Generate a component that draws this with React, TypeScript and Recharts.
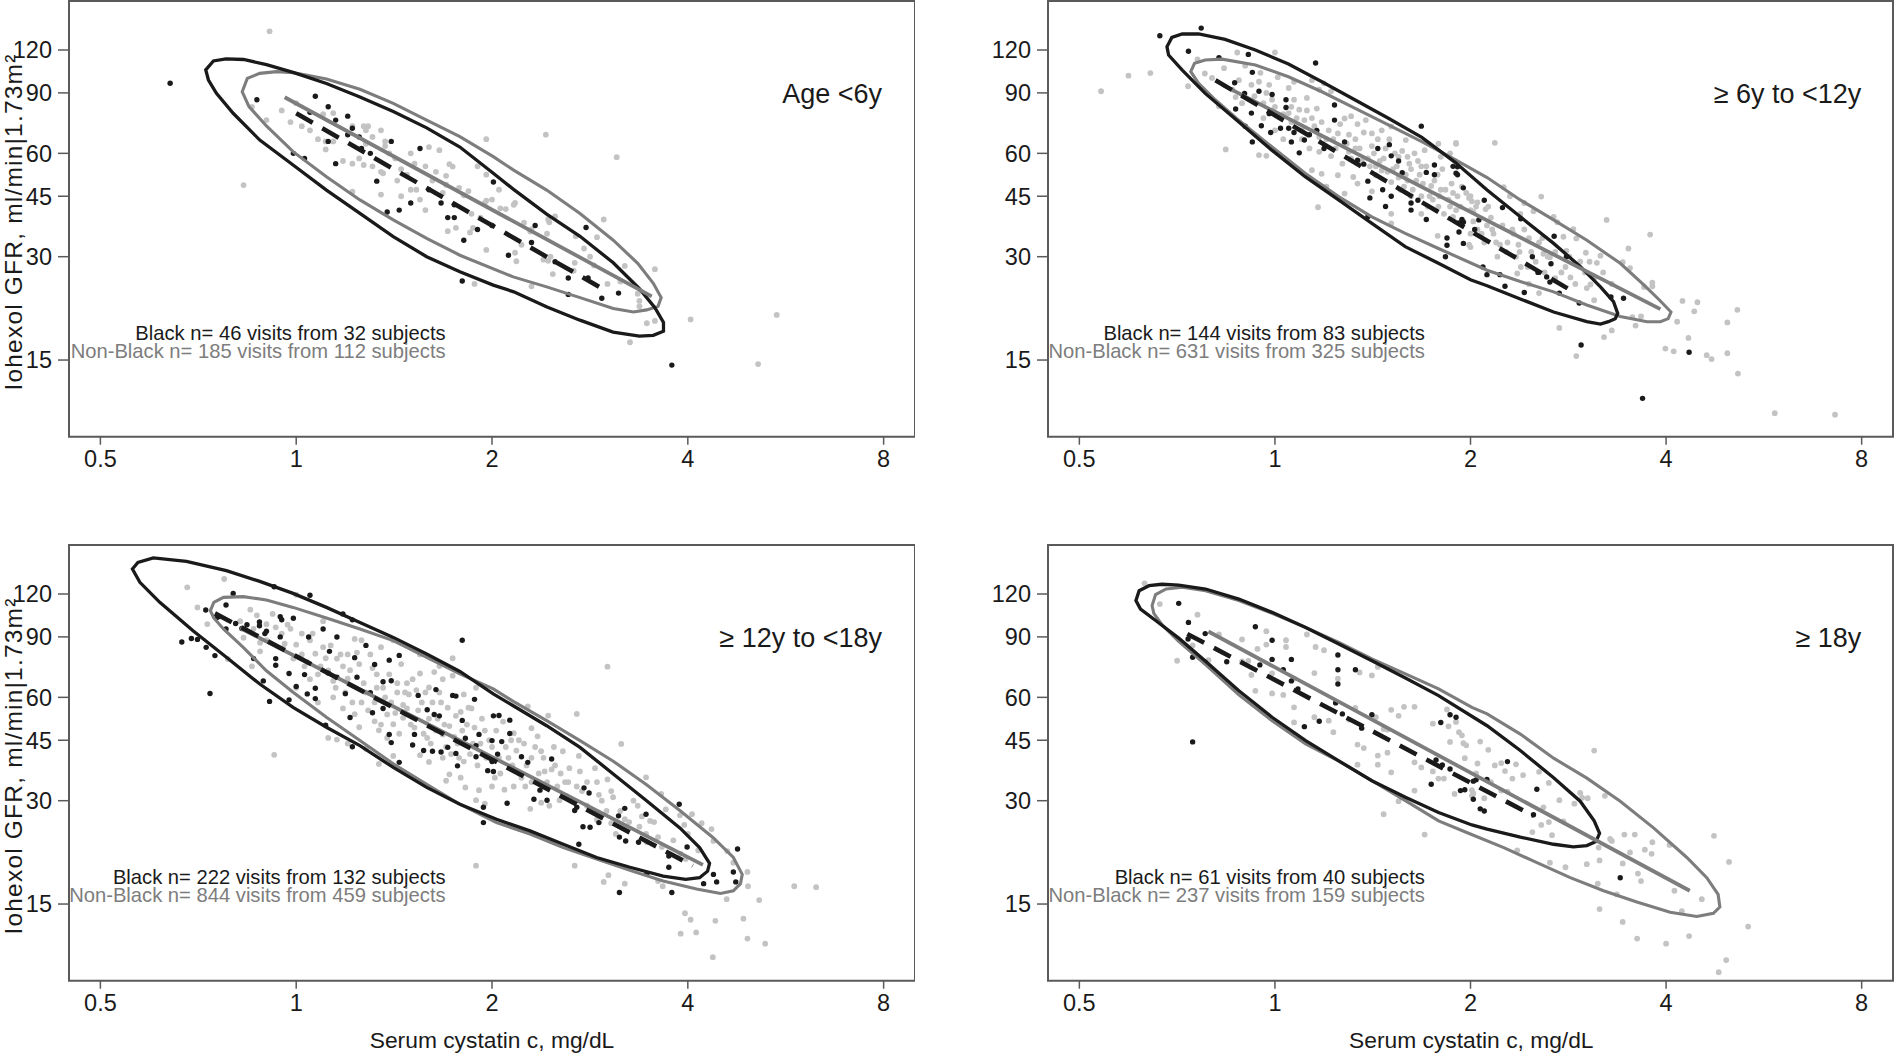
import React from 'react';
import { ScatterChart, Scatter, XAxis, YAxis, ReferenceArea } from 'recharts';

type Pair = [number, number];

const X_TICKS = [0.5, 1, 2, 4, 8];
const Y_TICKS = [15, 30, 45, 60, 90, 120];
const X_DOMAIN: [number, number] = [0.4474, 8.94];
const Y_DOMAIN: [number, number] = [8.97, 166.7];

const PANEL_TITLES = ['Age <6y', '\u2265 6y to <12y', '\u2265 12y to <18y', '\u2265 18y'];
const BLACK_LABELS = [
  'Black n= 46 visits from 32 subjects',
  'Black n= 144 visits from 83 subjects',
  'Black n= 222 visits from 132 subjects',
  'Black n= 61 visits from 40 subjects',
];
const NONBLACK_LABELS = [
  'Non-Black n= 185 visits from 112 subjects',
  'Non-Black n= 631 visits from 325 subjects',
  'Non-Black n= 844 visits from 459 subjects',
  'Non-Black n= 237 visits from 159 subjects',
];
const Y_TITLE = 'Iohexol GFR, ml/min|1.73m\u00B2';
const X_TITLE = 'Serum cystatin c, mg/dL';

// ---------- Age < 6y ----------
const TL_BLACK: Pair[] = [
  [0.64,96],[0.87,86],[1.07,88],[1.12,82],[1.05,79],[1.20,77],[1.22,71],[1.25,67],[1.12,65],[0.99,60],
  [1.03,58],[1.15,56],[1.40,65],[1.55,62],[1.33,49.8],[1.38,40.5],[1.44,41],[1.50,43],[1.67,43],[1.75,42.5],
  [1.71,39],[1.75,39],[1.81,33.5],[1.80,25.5],[2.01,49.5],[2.0,37],[1.26,62],[2.33,37],[2.12,30.3],[2.62,26],
  [2.79,36.5],[2.81,26],[2.62,23.3],[2.95,22.7],[3.13,23.5],[3.78,14.5],[1.30,60],[1.60,47],[1.90,36],[2.3,33],
  [1.20,68],[1.15,75],[2.5,29],
];
const TL_GRAY: Pair[] = [
  [0.91,136],[0.83,48.5],[0.855,82],[0.90,75],[1.05,70],[1.10,78],[1.14,78.6],[1.11,61.6],[1.14,65],[1.18,57],
  [1.22,72],[1.27,72],[1.29,72],[1.28,70],[1.35,70],[1.31,67],[1.37,65],[1.37,63],[1.28,64],[1.39,60],
  [1.42,58],[1.27,55.5],[1.22,56],[1.35,53],[1.36,52.5],[1.43,50],[1.48,52],[1.52,56],[1.58,55],[1.64,53],
  [1.60,62.6],[1.66,61.3],[1.72,55.8],[1.74,54.9],[1.70,51.6],[1.70,48.6],[1.78,47.6],[1.84,46.6],[1.81,45.3],[1.50,47],
  [1.53,47],[1.45,45],[1.58,41],[1.96,66],[1.96,43.7],[1.71,35.6],[1.76,36.4],[1.87,36.4],[1.85,35.3],[1.96,31.4],
  [1.88,25],[1.22,46.4],[1.35,45.5],[1.11,65],[1.31,55],[1.50,60],[1.90,55],[1.86,40],[2.42,68],[3.11,58.5],
  [1.96,52],[2.0,44],[1.95,43],[2.06,41.5],[2.10,41.3],[2.17,43],[2.16,42.5],[2.24,37.7],[2.30,36],[2.29,35.5],
  [2.44,38.5],[2.45,37.8],[2.43,35],[2.50,39.3],[2.69,34.4],[2.77,31.7],[2.83,30],[2.87,28.3],[2.90,34.2],[2.97,38.5],
  [2.17,30.8],[2.22,32.5],[2.40,29.4],[2.46,30],[2.44,29.2],[2.68,28.8],[2.48,26.7],[2.67,27.3],[2.18,29.1],[2.30,24.6],
  [3.20,28.2],[3.01,25],[3.56,27.6],[3.37,22.3],[3.37,21.5],[3.46,19.2],[3.56,19.5],[3.26,16.9],[4.04,19.7],[5.48,20.3],
  [5.13,14.6],[3.15,25.4],[3.35,23.4],[1.02,72],[1.08,66],[1.25,58],[1.45,54],[1.62,50],[1.55,44],[1.68,46],
  [1.92,39],[2.05,47],[1.00,84],[0.95,80],[0.98,74],
];
const TL_BLACK_ELLIPSE: Pair[] = [
  [0.726,105],[0.746,111.5],[0.78,113],[0.83,112.6],[0.90,108.8],[0.989,103.3],[1.113,95.9],[1.253,87.6],[1.41,79.5],[1.587,71.2],
  [1.785,62.6],[2.009,52.5],[2.156,47.2],[2.427,39.9],[2.731,34.4],[3.072,28.8],[3.37,24.2],[3.56,21.3],[3.67,19.3],[3.67,18.2],
  [3.54,17.7],[3.37,17.6],[3.07,18.1],[2.73,19.6],[2.43,21.4],[2.16,23.7],[2.009,24.8],[1.785,27.1],[1.587,30.0],[1.41,34.3],
  [1.253,40.1],[1.113,46.9],[0.989,55.5],[0.879,65.6],[0.80,78.5],[0.754,89.7],[0.733,98.1],
];
const TL_GRAY_ELLIPSE: Pair[] = [
  [0.826,90.7],[0.841,99.2],[0.879,102.6],[0.933,103.8],[0.989,103.1],[1.113,98.8],[1.253,92.2],[1.41,83.9],[1.587,75.0],[1.785,67.1],
  [2.009,58.7],[2.156,53.7],[2.427,46.9],[2.731,40.1],[3.072,33.5],[3.35,28.7],[3.54,25.1],[3.64,22.8],[3.60,21.5],[3.457,21.0],
  [3.30,20.7],[3.072,21.2],[2.731,22.8],[2.427,24.5],[2.156,26.2],[1.785,30.3],[1.587,33.9],[1.41,38.4],[1.253,43.9],[1.113,51.3],
  [0.989,60.7],[0.90,72.1],[0.846,82.1],
];
const TL_BLACK_FIT: Pair[] = [[1.0,78.5],[2.98,24.0]];
const TL_GRAY_FIT: Pair[] = [[0.96,87.4],[3.52,23.0]];

// ---------- >= 6y to < 12y ----------
const TR_BLACK: Pair[] = [
  [0.665,132],[0.77,139],[0.736,119],[0.91,116.5],[1.155,110],[0.82,114],[0.923,103.3],[0.867,96.3],[0.898,89.6],[0.945,91],
  [0.99,89],[1.04,86],[1.04,81.6],[0.87,80.8],[0.92,78.6],[0.98,78.3],[0.90,72],[0.953,72.2],[1.02,71],[1.05,71],
  [0.985,69],[1.07,69],[1.06,64.8],[0.923,64.8],[1.09,60.2],[1.13,68],[1.16,70],[1.235,83],[1.235,75],[1.19,62],
  [1.11,65.6],[1.28,64.8],[1.34,57.3],[1.37,55.8],[1.39,49.8],[1.44,62],[1.50,63.6],[1.51,59],[1.55,57],[1.465,47],
  [1.51,45],[1.40,44.5],[1.57,52.7],[1.68,72],[1.71,52.8],[1.76,52],[1.76,55.5],[1.88,55],[1.90,52.5],[1.66,43.8],
  [1.62,41],[1.71,38.5],[1.84,34],[1.84,32.4],[1.83,30],[1.95,32.8],[1.92,37.6],[1.95,37.8],[1.48,42],[1.39,39.2],
  [1.62,43],[1.91,54.8],[1.91,52],[1.95,47.6],[2.10,43.8],[1.94,38.5],[1.92,35.4],[2.06,38.4],[2.24,41.7],[2.39,38.7],
  [2.03,36],[2.09,28],[2.12,26.6],[2.22,26.6],[2.26,24.6],[2.42,23.6],[2.49,30],[2.54,27],[2.62,26.2],[2.65,25.3],
  [2.69,34.4],[2.74,23.5],[2.66,28.6],[2.94,22],[3.29,22.9],[3.44,22.7],[2.96,16.6],[4.34,15.8],[3.68,11.6],[2.81,30],
];
const TR_GRAY: Pair[] = [
  [0.54,91],[0.595,101],[0.643,102.8],[0.735,94.1],[0.76,112.6],[0.78,102.5],[0.80,99.5],[0.835,106.2],[0.875,118],[1.0,118],
  [0.84,61.6],[0.82,82.3],[0.87,87.5],[0.89,84],[0.945,97],[0.98,95],[0.99,86],[1.01,100],[0.96,84],[0.945,59.3],
  [0.97,59],[1.05,78.6],[1.09,80.4],[1.11,75],[1.07,86],[1.16,81],[1.19,96],[1.22,91],[1.28,75.8],[1.31,77],
  [1.34,73],[1.38,75],[1.41,68.6],[1.46,70],[1.51,71.9],[1.59,65.6],[1.25,68.6],[1.30,60.6],[1.22,58.9],[1.17,60.6],
  [1.14,53.6],[1.18,52.3],[1.25,51.8],[1.32,51.2],[1.20,48],[1.28,45.8],[1.34,49],[1.43,51.8],[1.46,53.5],[1.51,49.5],
  [1.41,46.5],[1.56,47],[1.60,50],[1.62,45],[1.55,58.6],[1.60,58.6],[1.64,60],[1.70,61.3],[1.785,64],[1.80,58.6],
  [1.86,60],[1.68,55],[1.74,48.2],[1.80,47],[1.87,49],[1.94,48],[1.99,44.5],[2.01,43.5],[1.785,42],[1.88,39.2],
  [2.0,41],[1.90,64],[2.0,35],[2.0,32],[1.68,40],[1.78,34.5],[1.51,40],[1.51,37.5],[1.165,41.8],[1.90,64.4],
  [2.18,64.4],[3.24,38.4],[3.78,34.8],[3.50,31.7],[3.43,28.9],[3.52,27.8],[3.70,24.5],[3.81,24.6],[3.17,30.2],[3.13,28.8],
  [3.01,30.8],[3.02,24.3],[3.06,24.9],[3.10,22.4],[2.85,26.1],[2.81,31.2],[2.91,33.9],[2.88,36.1],[2.78,34.3],[2.685,39.2],
  [2.72,37.8],[2.57,44.9],[2.50,40.7],[2.386,40],[2.42,43],[2.33,35],[2.46,34],[2.37,32.5],[2.59,30.6],[2.65,29.9],
  [2.22,32.5],[2.17,35],[2.25,47.8],[2.30,45],[2.0,45],[2.05,43.2],[2.11,41.3],[2.02,40.5],[2.12,37],[1.99,32.5],
  [2.36,26.8],[2.39,28],[2.46,25],[2.55,23.5],[2.74,18.6],[3.21,17.5],[3.30,18.3],[2.91,15.4],[3.59,18.9],[3.55,20],
  [3.66,20.1],[4.16,19.4],[4.24,22.3],[4.42,20.8],[4.47,22.1],[5.15,21],[4.97,19.3],[4.33,17.4],[3.99,16.2],[4.11,15.9],
  [4.62,15.5],[4.70,15.1],[4.97,15.7],[5.16,13.7],[5.88,10.5],[7.28,10.4],[3.81,25.2],[0.86,92],[0.93,88],[0.96,76],
  [1.0,70],[1.03,66],[1.06,74],[1.1,70],[1.13,62],[1.15,72],[1.2,66],[1.24,62],[1.27,56],[1.3,68],
  [1.33,62],[1.36,57],[1.4,55],[1.42,60],[1.45,57],[1.48,62],[1.52,54],[1.55,51],[1.58,48],[1.62,54],
  [1.65,50],[1.68,45],[1.72,42],[1.75,44],[1.78,52],[1.82,40],[1.85,44],[1.9,41],[1.95,38],[2.05,36],
  [2.1,33],[2.15,39],[2.2,30],[2.28,33],[2.35,30],[2.45,28],[2.55,33],[2.6,27],[2.7,26],[2.8,28],
  [2.9,25],[3.0,27],[3.1,26],[3.3,25],[1.12,87],[1.17,92],[1.05,93],[0.95,103],[0.9,108],
  [0.88,98],[0.92,95],[0.97,90],[1.0,82],[1.03,78],[1.06,82],[1.08,76],[1.1,66],[1.12,80],[1.14,76],
  [1.17,67],[1.18,74],[1.21,70],[1.23,66],[1.26,73],[1.29,64],[1.31,58],[1.33,66],[1.35,62],[1.37,69],
  [1.39,58],[1.41,63],[1.43,55],[1.44,66],[1.47,58],[1.49,53],[1.5,66],[1.53,60],[1.54,55],[1.57,61],
  [1.59,52],[1.61,56],[1.63,47],[1.66,57],[1.67,52],[1.69,49],[1.71,55],[1.73,45],[1.76,50],[1.79,45],
  [1.81,54],[1.83,47],[1.86,42],[1.88,46],[1.91,45],[1.93,42],[1.97,46],[2.02,38],[2.04,42],[2.08,35],
  [2.13,42],[2.16,36],[2.19,33],[2.24,37],[2.27,31],[2.32,36],[2.38,31],[2.42,36],[2.48,31],[2.52,29],
  [2.58,34],[2.63,30],[2.7,31],[2.76,27],[2.84,30],[2.95,29],[3.05,29],[3.2,27],[1.07,97],[1.14,98],
];
const TR_BLACK_ELLIPSE: Pair[] = [
  [0.682,122.7],[0.694,130.6],[0.72,133.6],[0.763,133.6],[0.838,128.9],[0.933,120],[1.049,109.2],[1.181,97.0],[1.329,85.8],[1.495,75.9],
  [1.683,66.8],[1.894,56.5],[2.121,46.9],[2.386,39.2],[2.685,32.8],[2.95,28.1],[3.17,24.5],[3.32,22.2],[3.37,20.5],[3.34,19.8],
  [3.26,19.4],[3.17,19.1],[3.02,19.4],[2.685,20.7],[2.386,22.6],[2.121,24.7],[2.0,25.7],[1.785,28.7],[1.587,32.1],[1.41,37.5],
  [1.253,43.9],[1.113,51.3],[0.989,61.3],[0.879,74.2],[0.781,89.7],[0.72,104.9],[0.686,116],
];
const TR_GRAY_ELLIPSE: Pair[] = [
  [0.742,103.8],[0.752,109.7],[0.781,112.2],[0.829,112.9],[0.933,108.5],[1.049,100.3],[1.181,90.7],[1.329,81.1],[1.495,72.6],[1.683,64.9],
  [1.894,57.5],[2.121,51.0],[2.386,43.9],[2.685,38.4],[3.021,33.5],[3.40,28.7],[3.70,24.8],[3.91,22.4],[4.07,20.7],[4.03,19.8],
  [3.92,19.4],[3.74,19.4],[3.40,20.1],[3.02,21.7],[2.685,23.7],[2.386,25.4],[2.121,27.4],[1.785,31.7],[1.587,35.1],[1.41,39.2],
  [1.253,44.9],[1.113,52.5],[0.989,62.7],[0.879,75.0],[0.81,85.8],[0.763,95.9],
];
const TR_BLACK_FIT: Pair[] = [[0.81,98],[2.88,23.7]];
const TR_GRAY_FIT: Pair[] = [[0.83,95],[3.92,21.1]];

// ---------- >= 12y to < 18y ----------
const BL_BLACK: Pair[] = [
  [0.667,87],[0.69,89],[0.705,88.5],[0.726,107.8],[0.727,83.9],[0.75,79.4],[0.737,61.6],[0.80,120.5],[0.78,111.5],[0.757,102.6],
  [0.78,94.9],[0.807,98.5],[0.825,95.2],[0.84,97.6],[0.878,99.5],[0.878,97],[0.90,93.5],[0.895,92],[0.945,103],[0.95,101],
  [0.925,126],[1.05,119],[0.99,102],[0.945,90],[0.86,77.8],[0.93,77.8],[0.93,74.4],[0.89,67],[0.91,58.4],[0.975,59],
  [0.975,70.4],[1.0,64.5],[1.03,69.9],[1.04,61.4],[1.10,94.9],[1.045,89.9],[1.155,89.9],[1.18,105],[1.22,100.9],[1.125,81.7],
  [1.07,63.8],[1.07,59.5],[1.12,70.6],[1.155,68.7],[1.19,61.5],[1.21,52.4],[1.23,78.3],[1.24,68.7],[1.28,85],[1.32,74.8],
  [1.30,61.9],[1.31,54.1],[1.36,66.6],[1.39,77],[1.40,67.1],[1.44,79.5],[1.36,55.7],[1.40,44.3],[1.39,46.8],[1.44,38.8],
  [1.52,46.8],[1.51,43.6],[1.54,60.8],[1.59,55.2],[1.64,63.2],[1.63,53.5],[1.74,60.8],[1.76,60.5],[1.66,53],[1.57,42],
  [1.62,41.8],[1.67,41.6],[1.71,42.9],[1.76,41.2],[1.77,37.9],[1.80,51.4],[1.82,45.6],[1.89,43.4],[1.88,59.2],[1.91,46.8],
  [1.89,40.3],[1.97,36.7],[2.01,53],[2.0,39.0],[2.01,36.5],[1.94,28.7],[1.80,88],[1.22,43.1],[1.11,49.8],[2.05,53.1],
  [2.13,51.5],[2.13,47.1],[2.0,44.9],[2.07,44.6],[2.04,41.0],[2.22,40.3],[2.27,38.8],[2.47,39.7],[2.32,30.3],[2.43,30.1],
  [2.37,32.2],[1.94,25.9],[2.11,29.5],[2.77,32.7],[2.82,31.6],[2.70,28.7],[2.68,28.1],[2.76,25.2],[2.83,25.1],[2.72,22.4],
  [2.92,25.9],[3.2,28.5],[3.13,27.1],[3.14,23.5],[3.21,22.9],[3.45,27.4],[3.36,22.7],[3.88,29.3],[3.74,20.7],[3.46,18.4],
  [3.74,19.2],[3.99,22.0],[4.38,18.3],[4.43,17.4],[4.70,18.6],[4.74,17.4],[4.77,21.7],[4.23,17.2],[3.78,16.2],[3.14,16.2],
];
const BL_GRAY: Pair[] = [
  [0.68,125.5],[0.775,132.7],[0.705,109.7],[0.73,98.1],[0.785,77.6],[0.925,40.8],[1.0,119.5],[0.97,97.7],[1.02,92],[0.88,86.6],
  [0.90,98],[0.86,95],[0.83,89.5],[0.88,81.7],[0.855,73.9],[0.955,83.6],[0.99,77.8],[1.0,85.4],[1.03,73.9],[1.05,67.8],
  [1.07,80.4],[1.09,73.9],[1.12,71.9],[1.155,77.8],[1.18,73.9],[1.14,60],[1.18,55.7],[1.12,45.7],[1.155,45.2],[1.23,53.6],
  [1.25,49.1],[1.26,58],[1.32,51.1],[1.34,48.1],[1.38,45.7],[1.41,50.1],[1.46,52.3],[1.48,55.7],[1.49,61.2],[1.51,67.8],
  [1.55,70.4],[1.60,64.1],[1.63,71.1],[1.68,67.8],[1.74,69.4],[1.81,61.2],[1.86,55.7],[1.79,54.4],[1.72,49.5],[1.68,46.8],
  [1.59,45.7],[1.55,40.7],[1.60,38.9],[1.68,40],[1.72,35.8],[1.79,35],[1.70,34.3],[1.82,32.8],[1.91,32.2],[1.89,30.1],
  [1.95,29.4],[2.02,35],[2.0,43],[1.89,64],[1.89,19.4],[1.34,38.4],[1.41,40.5],[1.28,42.5],[1.2,44],[1.38,53.5],
  [1.43,66],[1.33,70],[1.30,80],[1.26,88],[1.23,88.8],[1.35,84],[1.41,88],[1.66,74],[1.74,78],[1.55,80],
  [3.01,73.7],[2.70,53.7],[3.16,43.9],[3.45,35.1],[4.06,27.4],[4.20,25.8],[4.35,24.8],[4.94,18.6],[4.95,16.9],[5.15,15.4],
  [5.83,16.9],[6.3,16.8],[4.59,15.5],[4.41,13.4],[4.87,13.6],[3.96,14.1],[4.04,13.5],[3.90,12.3],[4.12,12.4],[4.94,11.9],
  [5.26,11.5],[4.37,10.5],[2.68,19.4],[2.97,17.4],[3.02,18.2],[3.20,17.2],[3.6,17.5],[3.66,16.9],[2.27,56.5],[2.44,53.1],
  [2.30,48.8],[2.35,46.2],[2.16,47.2],[2.49,43],[2.57,41.8],[2.38,41.8],[2.72,40.5],[2.41,36.5],[2.63,37.3],[2.73,36.5],
  [2.88,37.3],[3.01,34.6],[2.92,31.2],[3.07,30.7],[2.59,34],[2.54,30.1],[2.45,29],[2.38,29.6],[2.29,28.4],[2.16,33],
  [2.09,32.3],[2.22,35],[2.90,26.4],[3.05,25.8],[3.2,26.5],[3.37,25.2],[3.5,26.2],[3.46,22.7],[3.64,31.4],[3.7,28.3],
  [3.89,27.2],[4.0,24],[3.95,25.5],[3.6,23.5],[4.38,22.9],[4.6,21.4],[4.7,19.8],[3.97,20.3],[4.15,21.5],[1.05,88],
  [1.1,84],[1.15,64],[1.2,68],[1.25,75],[1.28,62],[1.32,58],[1.36,64],[1.4,58],[1.44,47],[1.47,62],
  [1.52,49],[1.56,58],[1.6,52],[1.64,48],[1.67,58],[1.7,43],[1.75,46],[1.78,40],[1.83,50],[1.87,44],
  [1.9,38],[1.95,48],[2.0,33],[2.05,40],[2.1,43],[2.15,38],[2.2,45],[2.25,33],[2.3,40],[2.4,33],
  [2.5,38],[2.6,31],[2.7,33],[2.8,29],[2.9,34],[3.0,28],[3.1,24],[3.3,30],[3.4,27],[0.95,92],
  [0.92,105],[0.85,108],[1.1,100],[1.0,64],[1.08,58],[1.2,80],[1.45,75],
  [0.82,100],[0.87,104],[0.9,88],[0.93,96],[0.96,86],[0.98,95],[1.02,80],[1.04,76],[1.06,92],[1.08,70],
  [1.11,78],[1.13,85],[1.14,67],[1.17,80],[1.19,62],[1.21,72],[1.22,58],[1.24,81],[1.27,66],[1.29,55],
  [1.31,73],[1.33,64],[1.35,50],[1.37,60],[1.39,70],[1.42,54],[1.43,62],[1.46,57],[1.48,66],[1.5,50],
  [1.53,63],[1.54,55],[1.57,47],[1.58,62],[1.61,44],[1.62,58],[1.65,52],[1.66,62],[1.69,50],[1.71,56],
  [1.73,41],[1.76,53],[1.77,44],[1.8,48],[1.81,39],[1.84,56],[1.85,41],[1.88,49],[1.92,44],[1.93,52],
  [1.96,40],[1.98,45],[2.03,48],[2.06,36],[2.08,51],[2.12,40],[2.14,45],[2.18,42],[2.2,36],[2.24,44],
  [2.26,38],[2.3,34],[2.33,43],[2.36,36],[2.4,40],[2.43,34],[2.47,37],[2.52,33],[2.55,36],[2.62,34],
  [2.66,30],[2.75,32],[2.8,34],[2.85,28],[2.95,30],[3.05,32],[3.15,28],[3.25,26],[3.35,29],[3.45,24],
  [3.55,26],[3.65,22],[3.8,23],[3.9,21],
];
const BL_BLACK_ELLIPSE: Pair[] = [
  [0.56,141.9],[0.571,148.4],[0.603,152.8],[0.678,149.4],[0.781,140.3],[0.879,130.6],[0.989,120.5],[1.113,109.7],[1.253,99.2],[1.41,89.7],
  [1.587,80.2],[1.785,71.4],[2.009,61.4],[2.156,56.7],[2.427,49.6],[2.731,42.9],[3.072,35.9],[3.457,30.0],[3.889,25.0],[4.17,21.9],
  [4.32,19.7],[4.29,18.7],[4.17,17.9],[3.97,17.7],[3.666,18.1],[3.259,19.2],[2.897,20.5],[2.574,22.4],[2.288,24.5],[2.032,26.5],
  [1.785,29.3],[1.587,32.8],[1.41,37.5],[1.253,43.4],[1.113,49.1],[0.989,56.1],[0.879,65.6],[0.781,78.5],[0.694,93.8],[0.617,113.5],
  [0.575,129.8],
];
const BL_GRAY_ELLIPSE: Pair[] = [
  [0.738,107.3],[0.747,113.5],[0.773,117.3],[0.829,117.9],[0.90,115.3],[0.989,109.7],[1.113,102.2],[1.253,94.9],[1.41,87.8],[1.587,78.5],
  [1.785,70.2],[2.009,63.5],[2.156,58.4],[2.427,51.3],[2.731,44.9],[3.072,39.1],[3.457,33.4],[3.889,28.1],[4.376,23.4],[4.70,20.5],
  [4.85,18.3],[4.82,17.2],[4.70,16.4],[4.49,16.1],[4.126,16.6],[3.666,17.5],[3.259,18.8],[2.897,20.3],[2.574,21.9],[2.288,24.0],
  [2.032,25.9],[1.785,29.3],[1.587,33.5],[1.41,38.4],[1.253,44.9],[1.113,52.5],[0.989,62.1],[0.90,71.7],[0.829,83.9],[0.773,94.9],
  [0.747,102.2],
];
const BL_BLACK_FIT: Pair[] = [[0.75,105.4],[4.07,19.4]];
const BL_GRAY_FIT: Pair[] = [[0.82,95.5],[4.22,19.5]];

// ---------- >= 18y ----------
const BR_BLACK: Pair[] = [
  [0.711,112.7],[0.736,99.2],[0.735,88.7],[0.747,78.5],[0.747,44.5],[0.781,92.0],[0.781,75.9],[0.843,76.2],[0.933,96.3],[0.948,74.6],
  [0.99,88],[0.99,77.4],[1.06,77.4],[1.03,72.2],[1.085,63.5],[1.06,67],[1.11,49.3],[1.17,51.1],[1.25,79.7],[1.25,72.2],
  [1.25,65.6],[1.24,57.8],[1.27,53.7],[1.33,72.2],[1.36,48.8],[1.41,53.4],[1.77,39.4],[1.81,38.1],[1.80,50.7],[1.86,53.4],
  [1.90,52.5],[1.86,37.1],[1.74,33.5],[1.93,32.1],[1.96,32.3],[2.02,34.2],[2.02,30.3],[2.28,39.0],[2.53,32.4],[2.04,34.5],
  [2.12,34.6],[2.07,28.4],[2.10,28.0],[2.50,27.3],[3.40,17.9],
];
const BR_GRAY: Pair[] = [
  [0.63,128.9],[0.665,112.2],[0.76,104.5],[0.707,76.7],[0.747,85.0],[0.79,77.0],[0.82,91.5],[0.89,76.3],[0.91,76.6],[0.89,88.5],
  [0.94,83],[0.97,85.5],[0.933,62.7],[0.92,69.7],[0.97,93.5],[0.99,70.5],[0.99,61.6],[1.03,61],[1.04,84.1],[1.04,88],
  [1.07,68],[1.07,56.1],[1.07,50.7],[1.12,91.5],[1.155,84.1],[1.15,70.6],[1.15,52.5],[1.19,82.3],[1.21,51.3],[1.23,47.5],
  [1.25,68],[1.30,51.7],[1.33,55.9],[1.35,70.9],[1.41,69.5],[1.44,73.6],[1.34,43.7],[1.37,42.7],[1.43,52.5],[1.44,40.6],
  [1.49,41.4],[1.34,38.2],[1.44,38.2],[1.51,55.2],[1.51,36.3],[1.55,53],[1.58,56.3],[1.64,56.3],[1.47,48.5],[1.49,48.3],
  [1.64,38.8],[1.68,37.5],[1.75,50.3],[1.75,36.5],[1.785,34.8],[1.82,34.8],[1.84,55.3],[1.85,49.4],[1.86,44.5],[1.94,46.5],
  [1.97,43.5],[1.89,31.4],[1.64,32.1],[1.55,29.9],[1.47,27.4],[1.70,23.9],[2.02,31.5],[2.01,31.0],[3.10,42.0],[1.90,50.9],
  [1.92,47.5],[1.95,44.1],[2.07,44.6],[2.13,42.2],[2.26,36.6],[2.35,38.3],[2.32,34.8],[2.18,38],[2.23,38.6],[2.01,32.2],
  [2.10,30.5],[2.23,32.1],[2.28,31.9],[2.41,35.6],[2.55,36.4],[2.64,33.8],[2.74,30.1],[2.59,28.7],[2.57,25.5],[2.64,26],
  [2.67,23.8],[2.49,24.3],[2.78,26.1],[2.89,29.4],[2.95,31.6],[2.97,30.6],[3.03,30.5],[3.22,31.0],[3.15,21.9],[3.16,20.1],
  [2.36,21.5],[2.65,19.8],[2.80,19.2],[3.02,19.6],[3.28,23.2],[3.30,22.9],[3.45,23.9],[3.58,23.9],[3.52,21.2],[3.71,21.6],
  [3.81,22.7],[3.80,21],[4.05,22.3],[3.43,19.7],[3.62,18.4],[3.66,17.5],[3.14,17.2],[3.36,16.0],[3.16,14.5],[3.43,13.3],
  [3.61,11.9],[4.0,11.5],[4.34,12.1],[4.12,16.4],[4.23,14.3],[4.54,15.5],[4.74,23.7],[5.0,19.9],[5.35,12.9],[4.95,10.3],
  [4.82,9.5],[1.96,39.9],[2.05,38.5],[2.04,36],[2.15,34],
];
const BR_BLACK_ELLIPSE: Pair[] = [
  [0.611,114.8],[0.618,122.7],[0.64,126.9],[0.67,128.1],[0.711,127.4],[0.782,124.1],[0.88,116],[0.99,106.1],[1.115,95.9],[1.254,85.8],
  [1.41,76.7],[1.588,68.3],[1.786,60.7],[2.121,49.6],[2.386,42.0],[2.685,35.0],[2.95,29.9],[3.10,26.2],[3.16,24.1],[3.12,22.8],
  [3.02,22.2],[2.88,22.0],[2.685,22.4],[2.386,23.5],[2.121,24.8],[2.01,25.5],[1.786,27.7],[1.588,30.7],[1.41,34.3],[1.254,39.2],
  [1.115,44.9],[0.99,52.5],[0.88,62.7],[0.782,76.4],[0.711,89.3],[0.656,100.3],[0.621,108.5],
];
const BR_GRAY_ELLIPSE: Pair[] = [
  [0.647,111],[0.655,119.5],[0.68,124.1],[0.72,125.5],[0.782,122.7],[0.88,114.8],[0.99,105.4],[1.115,95.9],[1.254,86.8],[1.41,77.6],
  [1.588,70.2],[1.786,63.5],[2.01,56.1],[2.121,53.7],[2.386,46.9],[2.685,39.9],[3.021,34.9],[3.40,29.9],[3.826,25.0],[4.305,20.5],
  [4.62,17.9],[4.81,16.0],[4.84,14.7],[4.73,14.1],[4.46,13.8],[4.058,14.2],[3.606,15.2],[3.205,16.4],[2.848,17.9],[2.531,19.8],
  [2.25,21.9],[1.999,24.0],[1.786,26.2],[1.588,30.0],[1.41,34.3],[1.254,39.1],[1.115,43.9],[0.99,51.3],[0.88,61.0],[0.782,74.8],
  [0.711,87.4],[0.67,97.7],[0.651,105.4],
];
const BR_BLACK_FIT: Pair[] = [[0.733,91.8],[2.50,27.1]];
const BR_GRAY_FIT: Pair[] = [[0.79,93.3],[4.35,16.4]];

// ---------- styling ----------
const FONT = '"Liberation Sans", Arial, Helvetica, sans-serif';
const BOX = '#5a5a5a';
const TEXT = '#1a1a1a';
const BLACK = '#1a1a1a';
const LIGHT = '#c3c3c3';
const MID = '#7d7d7d';

const toPts = (a: Pair[]) => a.map(([x, y]) => ({ x, y }));

const GrayDot = (p: any) => <circle cx={p.cx} cy={p.cy} r={2.9} fill={LIGHT} />;
const BlackDot = (p: any) => <circle cx={p.cx} cy={p.cy} r={2.7} fill={BLACK} />;
const NoDot = () => <g />;

interface PanelData {
  black: Pair[];
  gray: Pair[];
  blackEllipse: Pair[];
  grayEllipse: Pair[];
  blackFit: Pair[];
  grayFit: Pair[];
}

const PANELS: PanelData[] = [
  { black: TL_BLACK, gray: TL_GRAY, blackEllipse: TL_BLACK_ELLIPSE, grayEllipse: TL_GRAY_ELLIPSE, blackFit: TL_BLACK_FIT, grayFit: TL_GRAY_FIT },
  { black: TR_BLACK, gray: TR_GRAY, blackEllipse: TR_BLACK_ELLIPSE, grayEllipse: TR_GRAY_ELLIPSE, blackFit: TR_BLACK_FIT, grayFit: TR_GRAY_FIT },
  { black: BL_BLACK, gray: BL_GRAY, blackEllipse: BL_BLACK_ELLIPSE, grayEllipse: BL_GRAY_ELLIPSE, blackFit: BL_BLACK_FIT, grayFit: BL_GRAY_FIT },
  { black: BR_BLACK, gray: BR_GRAY, blackEllipse: BR_BLACK_ELLIPSE, grayEllipse: BR_GRAY_ELLIPSE, blackFit: BR_BLACK_FIT, grayFit: BR_GRAY_FIT },
];

// plot-area origins (left, top) of the four panels
const ORIGINS: Pair[] = [[69, 1], [1048.3, 1], [69, 545], [1048.3, 545]];

function Panel({ d, left, top, rightMargin }: { d: PanelData; left: number; top: number; rightMargin: number }) {
  return (
    <div style={{ position: 'absolute', left, top }}>
      <ScatterChart width={915} height={500} margin={{ top: 1, right: rightMargin, bottom: 0, left: 0 }}>
        <XAxis
          type="number"
          dataKey="x"
          scale="log"
          domain={X_DOMAIN}
          ticks={X_TICKS}
          interval={0}
          allowDataOverflow
          height={63.3}
          axisLine={false}
          tickLine={{ stroke: BOX, strokeWidth: 1.5 }}
          tickSize={8}
          tickMargin={6}
          tick={{ fill: TEXT, fontSize: 23.5, fontFamily: FONT }}
        />
        <YAxis
          type="number"
          dataKey="y"
          scale="log"
          domain={Y_DOMAIN}
          ticks={Y_TICKS}
          interval={0}
          allowDataOverflow
          width={69}
          axisLine={false}
          tickLine={{ stroke: BOX, strokeWidth: 1.5 }}
          tickSize={11}
          tickMargin={6}
          tick={{ fill: TEXT, fontSize: 23.5, fontFamily: FONT }}
        />
        <ReferenceArea
          x1={X_DOMAIN[0]}
          x2={X_DOMAIN[1]}
          y1={Y_DOMAIN[0]}
          y2={Y_DOMAIN[1]}
          fill="none"
          fillOpacity={0}
          stroke={BOX}
          strokeWidth={2}
          ifOverflow="visible"
        />
        <Scatter data={toPts(d.gray)} shape={GrayDot} isAnimationActive={false} />
        <Scatter data={toPts(d.black)} shape={BlackDot} isAnimationActive={false} />
        <Scatter
          data={toPts(d.grayEllipse)}
          shape={NoDot}
          line={{ stroke: MID, strokeWidth: 3.1 }}
          lineJointType="linearClosed"
          isAnimationActive={false}
        />
        <Scatter
          data={toPts(d.blackEllipse)}
          shape={NoDot}
          line={{ stroke: BLACK, strokeWidth: 3.3 }}
          lineJointType="linearClosed"
          isAnimationActive={false}
        />
        <Scatter
          data={toPts(d.grayFit)}
          shape={NoDot}
          line={{ stroke: MID, strokeWidth: 3.8 }}
          isAnimationActive={false}
        />
        <Scatter
          data={toPts(d.blackFit)}
          shape={NoDot}
          line={{ stroke: BLACK, strokeWidth: 4.6, strokeDasharray: '19 11' }}
          isAnimationActive={false}
        />
      </ScatterChart>
    </div>
  );
}

export default function App() {
  return (
    <div
      style={{
        position: 'absolute',
        left: 0,
        top: 0,
        width: 1895,
        height: 1054,
        overflow: 'hidden',
        background: '#ffffff',
        fontFamily: FONT,
      }}
    >
      {PANELS.map((d, i) => (
        <Panel
          key={i}
          d={d}
          left={ORIGINS[i][0] - 69}
          top={ORIGINS[i][1] - 1}
          rightMargin={i % 2 === 0 ? 0 : 1}
        />
      ))}
      <svg
        width={1895}
        height={1054}
        style={{ position: 'absolute', left: 0, top: 0, pointerEvents: 'none' }}
        fontFamily={FONT}
      >
        {ORIGINS.map(([px, py], i) => (
          <g key={i}>
            <text x={px + 813} y={py + 102} fontSize={27} textAnchor="end" fill={TEXT}>
              {PANEL_TITLES[i]}
            </text>
            <text x={px + 376.6} y={py + 339} fontSize={20.2} textAnchor="end" fill={TEXT}>
              {BLACK_LABELS[i]}
            </text>
            <text x={px + 376.6} y={py + 356.5} fontSize={20.2} textAnchor="end" fill={MID}>
              {NONBLACK_LABELS[i]}
            </text>
            {i % 2 === 0 && (
              <text
                x={22}
                y={py + 221}
                fontSize={24.5}
                letterSpacing={1.2}
                textAnchor="middle"
                fill={TEXT}
                transform={`rotate(-90, 22, ${py + 221})`}
              >
                {Y_TITLE}
              </text>
            )}
            {i >= 2 && (
              <text x={px + 423} y={1047.5} fontSize={22.8} textAnchor="middle" fill={TEXT}>
                {X_TITLE}
              </text>
            )}
          </g>
        ))}
      </svg>
    </div>
  );
}
